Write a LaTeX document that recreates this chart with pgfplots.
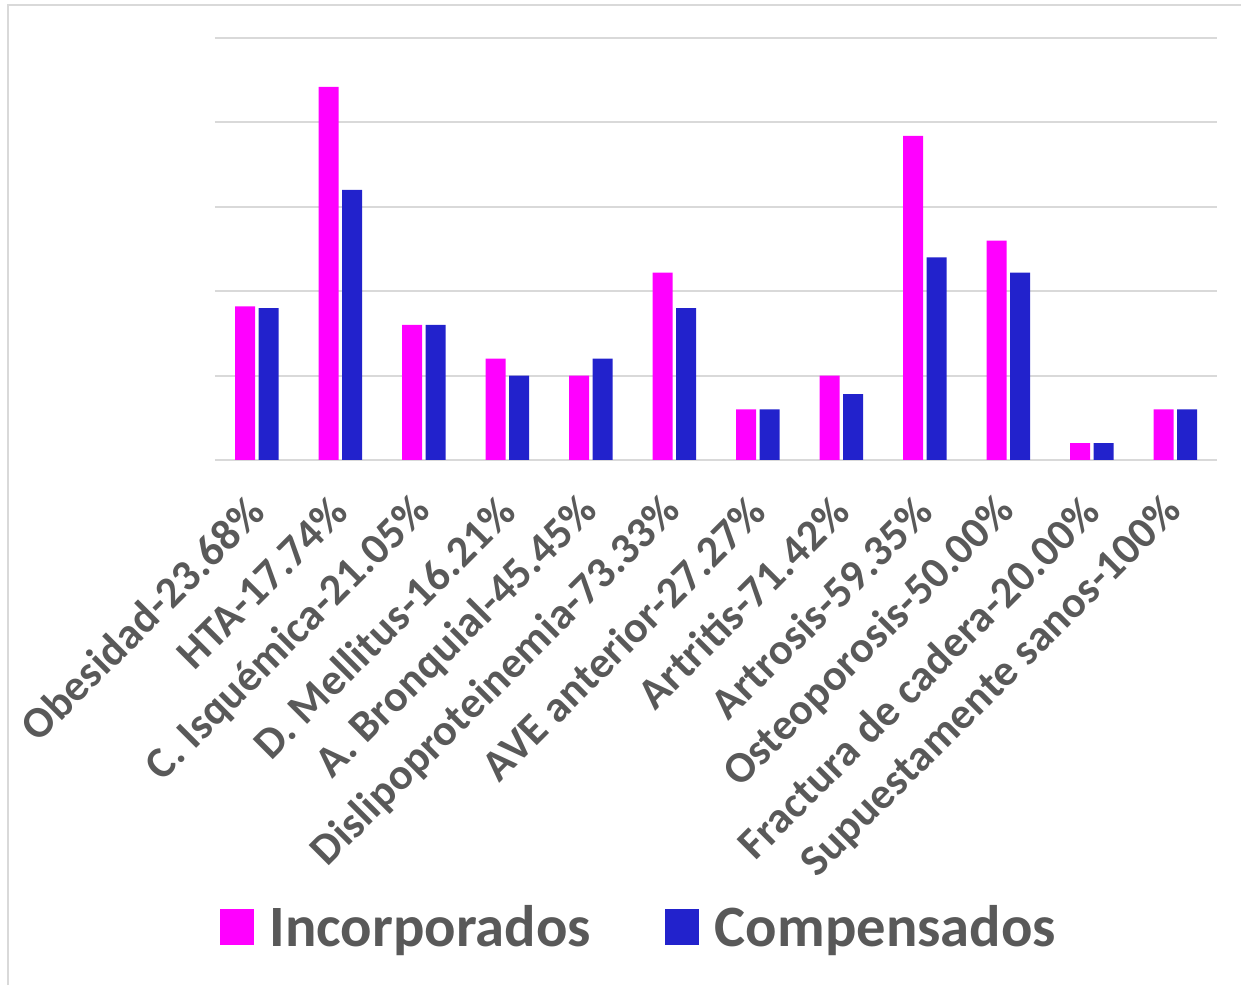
\documentclass[border=0pt]{standalone}
\usepackage{fontspec}
\setmainfont{Carlito}
\usepackage{pgfplots}
\pgfplotsset{compat=1.18}
\usepackage{pgfplotstable}
\definecolor{incorp}{HTML}{FF00FF}
\definecolor{compen}{HTML}{2222CC}
\definecolor{lbl}{HTML}{595959}
\definecolor{grd}{HTML}{D9D9D9}
\pgfplotstableread{
x inc comp
0 9.1 9.0
1 22.1 16.0
2 8.0 8.0
3 6.0 5.0
4 5.0 6.0
5 11.1 9.0
6 3.0 3.0
7 5.0 3.9
8 19.2 12.0
9 13.0 11.1
10 1.0 1.0
11 3.0 3.0
}\datatable
\begin{document}
\begin{tikzpicture}
\useasboundingbox (0,0) rectangle (620.5pt,492.5pt);
\draw[grd, line width=1pt] (4pt,0) -- (4pt,490pt) -- (620.5pt,490pt);
\begin{axis}[
  at={(107.5pt,262.5pt)}, anchor=south west,
  scale only axis, width=501pt, height=211pt,
  xmin=-0.5, xmax=11.5, ymin=0, ymax=25,
  ybar=1.75pt, bar width=10pt,
  axis line style={draw=none},
  major tick length=0pt,
  ytick={0,5,...,25}, yticklabels={},
  ymajorgrids, grid style={grd, line width=1pt},
  xtick=data,
  xticklabels={Obesidad-23.68\%,HTA-17.74\%,C. Isquémica-21.05\%,D. Mellitus-16.21\%,A. Bronquial-45.45\%,Dislipoproteinemia-73.33\%,AVE anterior-27.27\%,Artritis-71.42\%,Artrosis-59.35\%,Osteoporosis-50.00\%,Fractura de cadera-20.00\%,Supuestamente sanos-100\%},
  xticklabel style={rotate=45, anchor=east, inner sep=0pt, font=\fontsize{22}{25}\selectfont\bfseries\addfontfeatures{LetterSpace=0.6}, text=lbl},
  xticklabel shift=22pt,
  legend style={at={(0.424,-1.107)}, anchor=center, draw=none, fill=none,
    legend columns=2, font=\fontsize{29.3}{32}\selectfont\bfseries, text=lbl,
    /tikz/every even column/.append style={column sep=35pt}},
  legend image code/.code={\fill[#1] (0pt,-9pt) rectangle (17pt,9pt); \path (23pt,0pt);},
]
\addplot[fill=incorp, draw=none] table[x=x, y=inc] {\datatable};
\addplot[fill=compen, draw=none] table[x=x, y=comp] {\datatable};
\legend{Incorporados, Compensados}
\end{axis}
\end{tikzpicture}
\end{document}
